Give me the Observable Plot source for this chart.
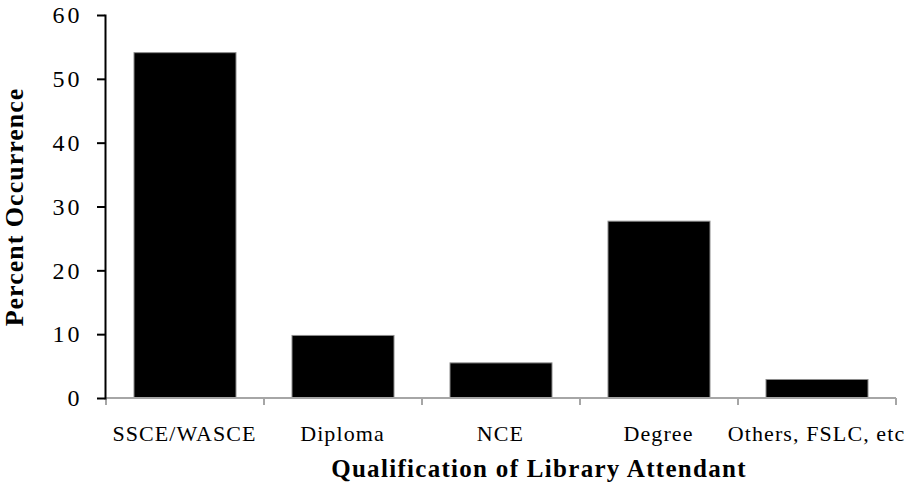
<!DOCTYPE html>
<html><head><meta charset="utf-8">
<script src="https://cdn.jsdelivr.net/npm/d3@7"></script>
<script src="https://cdn.jsdelivr.net/npm/@observablehq/plot@0.6"></script>
<style>
body{margin:0;background:#fff}
.xt text{letter-spacing:1.1px}
.yt text{letter-spacing:3px}
.ttl text{letter-spacing:1.3px}
.ylab text{letter-spacing:1px}
</style></head><body><div id="chart"></div>
<script>
const categories = ["SSCE/WASCE", "Diploma", "NCE", "Degree", "Others, FSLC, etc"];
const percents = [54.1, 9.8, 5.5, 27.7, 2.9];
const yTicks = [0, 10, 20, 30, 40, 50, 60];
const xTitle = "Qualification of Library Attendant";
const yTitle = "Percent Occurrence";
const data = categories.map((c, i) => ({category: c, value: percents[i]}));

function boundaryTicks(index, scales, values, dims) {
  const x = scales.x;
  const y0 = scales.y(0);
  const xs = categories.map(c => x(c));
  xs.push(dims.width - dims.marginRight);
  const g = d3.create("svg:g").attr("stroke", "#a6a6a6").attr("stroke-width", 2);
  for (const px of xs) g.append("line").attr("x1", px).attr("x2", px).attr("y1", y0).attr("y2", y0 + 7);
  g.append("line").attr("x1", xs[0]).attr("x2", xs[xs.length - 1]).attr("y1", y0).attr("y2", y0);
  return g.node();
}

const plot = Plot.plot({
  width: 906, height: 489,
  marginLeft: 105, marginRight: 10, marginTop: 15, marginBottom: 91,
  style: {fontFamily: "'Liberation Serif','Times New Roman',serif", background: "#fff", color: "#000"},
  x: {domain: categories, padding: 0, label: null},
  y: {domain: [0, 60], label: null},
  marks: [
    Plot.barY(data, {x: "category", y: "value", fill: "#000", stroke: "#8c8c8c", strokeWidth: 1, insetLeft: 28, insetRight: 28}),
    boundaryTicks,
    Plot.frame({anchor: "left", stroke: "#000", strokeWidth: 2}),
    Plot.axisY({ticks: yTicks, tickSize: 8, tickPadding: 15, fontSize: 24, strokeWidth: 2, label: null, className: "yt"}),
    Plot.axisX({tickSize: 0, tickPadding: 27, fontSize: 22, dx: -1, label: null, className: "xt"}),
    Plot.text([xTitle], {frameAnchor: "bottom", dx: 38, dy: 70, lineAnchor: "middle", fontSize: 25, fontWeight: "bold", className: "ttl"}),
    Plot.text([yTitle], {frameAnchor: "left", textAnchor: "middle", dx: -91, rotate: -90, lineAnchor: "middle", fontSize: 26, fontWeight: "bold", className: "ylab"})
  ]
});
document.getElementById("chart").append(plot);
</script></body></html>
